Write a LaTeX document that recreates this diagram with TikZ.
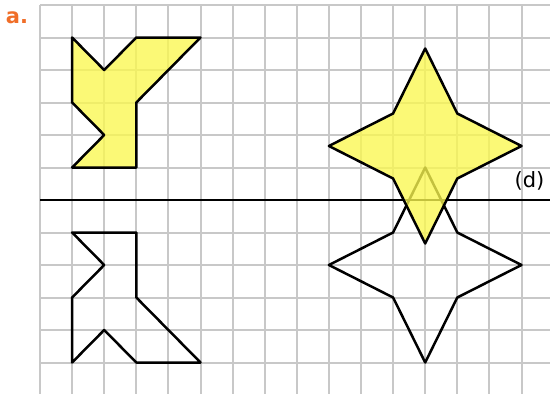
\documentclass[tikz,border=0pt]{standalone}
\usepackage{fontspec}
\setmainfont{DejaVu Sans}
\definecolor{gridgray}{RGB}{200,200,200}
\definecolor{figyellow}{RGB}{250,248,80}
\definecolor{labelorange}{RGB}{240,110,40}
\tikzset{
  gridline/.style={draw=gridgray, line width=2pt},
  axisline/.style={draw=black, line width=2.6pt},
  figline/.style={draw=black, line width=2.5pt, line join=round},
  figfill/.style={fill=figyellow, fill opacity=0.78},
}
\begin{document}
\begin{tikzpicture}[x=1pt,y=1pt]
\useasboundingbox[fill=white] (0,0) rectangle (550,-394);
\node[anchor=center, text=labelorange, font=\bfseries\fontsize{21}{24}\selectfont] (lbla) at (17,-18) {a.};
\begin{scope}[shift={(40,-5)}, x=32.1pt, y=-32.5pt]
  \foreach \i in {0,...,15} \draw[gridline] (\i,0) -- (\i,12.2);
  \foreach \j in {0,...,11} \draw[gridline] (0,\j) -- (15.95,\j);
  % line (d)
  \coordinate (dL) at (0,6);
  \coordinate (dR) at (15.95,6);
  \draw[axisline] (dL) -- (dR);
  \node[anchor=center, font=\fontsize{21}{24}\selectfont] (lbld) at (15.25,5.4) {(d)};
  % reflected (white) shapes
  \draw[figline] (1,11) -- (2,10) -- (3,11) -- (5,11) -- (3,9) -- (3,7) -- (1,7) -- (2,8) -- (1,9) -- cycle;
  \draw[figline] (12,5) -- (13,7) -- (15,8) -- (13,9) -- (12,11) -- (11,9) -- (9,8) -- (11,7) -- cycle;
  % yellow shapes
  \path[figfill] (1,1) -- (2,2) -- (3,1) -- (5,1) -- (3,3) -- (3,5) -- (1,5) -- (2,4) -- (1,3) -- cycle;
  \draw[figline] (1,1) -- (2,2) -- (3,1) -- (5,1) -- (3,3) -- (3,5) -- (1,5) -- (2,4) -- (1,3) -- cycle;
  \begin{scope}[yshift=-11pt]
    \path[figfill] (12,1) -- (13,3) -- (15,4) -- (13,5) -- (12,7) -- (11,5) -- (9,4) -- (11,3) -- cycle;
    \draw[figline] (12,1) -- (13,3) -- (15,4) -- (13,5) -- (12,7) -- (11,5) -- (9,4) -- (11,3) -- cycle;
  \end{scope}
\end{scope}
\end{tikzpicture}
\end{document}
